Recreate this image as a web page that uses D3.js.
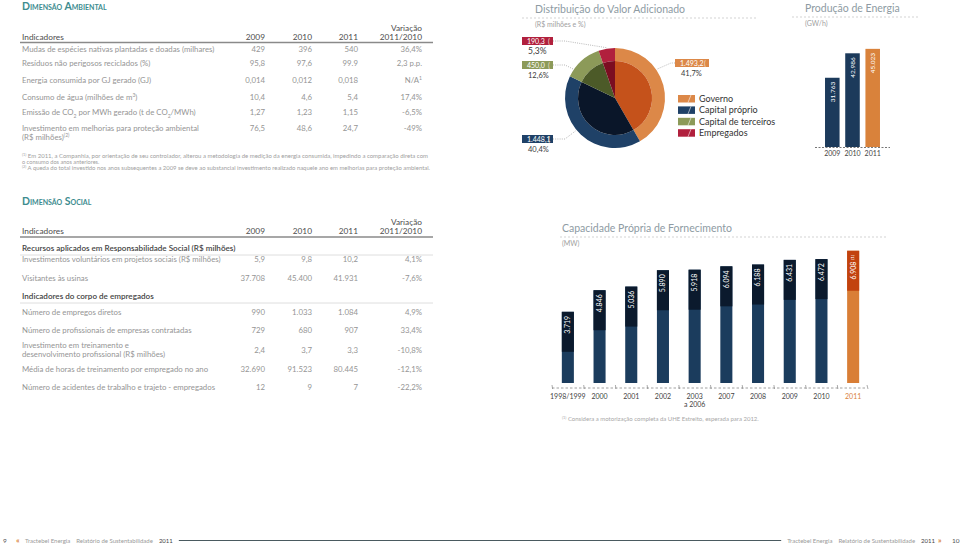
<!DOCTYPE html>
<html><head><meta charset="utf-8">
<script src="https://cdn.jsdelivr.net/npm/d3@7"></script>
<style>body{margin:0;background:#fff} svg{display:block;font-family:Lato,"Open Sans",sans-serif}</style>
</head><body><svg id="c" width="960" height="545"></svg>
<script>
// ---------------- DATA ----------------
const ambTitle = "Dimensão Ambiental";
const tableHeader = ["Indicadores", "2009", "2010", "2011", "Variação", "2011/2010"];
const ambLabels = [
  ["Mudas de espécies nativas plantadas e doadas (milhares)"],
  ["Resíduos não perigosos reciclados (%)"],
  ["Energia consumida por GJ gerado (GJ)"],
  ["Consumo de água (milhões de m^{3})"],
  ["Emissão de CO_{2} por MWh gerado (t de CO_{2}/MWh)"],
  ["Investimento em melhorias para proteção ambiental", "(R$ milhões)^{(2)}"]
];
const amb2009 = ["429", "95,8", "0,014", "10,4", "1,27", "76,5"];
const amb2010 = ["396", "97,6", "0,012", "4,6", "1,23", "48,6"];
const amb2011 = ["540", "99.9", "0,018", "5,4", "1,15", "24,7"];
const ambVar = ["36,4%", "2,3 p.p.", "N/A^{1}", "17,4%", "-6,5%", "-49%"];
const ambNotes = [
  "^{(1)} Em 2011, a Companhia, por orientação de seu controlador, alterou a metodologia de medição da energia consumida, impedindo a comparação direta com",
  "   o consumo dos anos anteriores.",
  "^{(2)} A queda do total investido nos anos subsequentes a 2009 se deve ao substancial investimento realizado naquele ano em melhorias para proteção ambiental."
];

const socTitle = "Dimensão Social";
const socLabels = [
  ["Recursos aplicados em Responsabilidade Social (R$ milhões)"],
  ["Investimentos voluntários em projetos sociais (R$ milhões)"],
  ["Visitantes às usinas"],
  ["Indicadores do corpo de empregados"],
  ["Número de empregos diretos"],
  ["Número de profissionais de empresas contratadas"],
  ["Investimento em treinamento e", "desenvolvimento profissional (R$ milhões)"],
  ["Média de horas de treinamento por empregado no ano"],
  ["Número de acidentes de trabalho e trajeto - empregados"]
];
const socIsSection = [true, false, false, true, false, false, false, false, false];
const soc2009 = ["", "5,9", "37.708", "", "990", "729", "2,4", "32.690", "12"];
const soc2010 = ["", "9,8", "45.400", "", "1.033", "680", "3,7", "91.523", "9"];
const soc2011 = ["", "10,2", "41.931", "", "1.084", "907", "3,3", "80.445", "7"];
const socVar = ["", "4,1%", "-7,6%", "", "4,9%", "33,4%", "-10,8%", "-12,1%", "-22,2%"];

const pieTitle = "Distribuição do Valor Adicionado";
const pieSub = "(R$ milhões e %)";
const pieCats = ["Governo", "Capital próprio", "Capital de terceiros", "Empregados"];
const pieValues = [1493.2, 1448.1, 450.0, 190.3];
const pieValueLabels = ["1.493,2", "1.448,1", "450,0", "190,3"];
const piePctLabels = ["41,7%", "40,4%", "12,6%", "5,3%"];

const energyTitle = "Produção de Energia";
const energySub = "(GW/h)";
const energyYears = ["2009", "2010", "2011"];
const energyValues = [31763, 42986, 45023];
const energyLabels = ["31.763", "42.986", "45.023"];

const capTitle = "Capacidade Própria de Fornecimento";
const capSub = "(MW)";
const capCats = ["1998/1999", "2000", "2001", "2002", "2003|a 2006", "2007", "2008", "2009", "2010", "2011"];
const capValues = [3719, 4846, 5036, 5890, 5918, 6094, 6188, 6431, 6472, 6908];
const capLabels = ["3.719", "4.846", "5.036", "5.890", "5.918", "6.094", "6.188", "6.431", "6.472", "6.908 ^{(1)}"];
const capNote = "^{(1)} Considera a motorização completa da UHE Estreito, esperada para 2012.";

const footLeftNum = "9", footRightNum = "10";
const footTexts = ["Tractebel Energia", "Relatório de Sustentabilidade", "2011"];

// ---------------- HELPERS ----------------
const svg = d3.select("#c");
const TEAL = "#3d8c8f", GRAY = "#959595", DARK = "#4d4d4d", ORANGE = "#d9823b";

function rich(t, str) {
  str.split(/(\^\{[^}]*\}|_\{[^}]*\})/).filter(s => s.length).forEach(s => {
    if (s.startsWith("^{")) t.append("tspan").attr("baseline-shift", "super").attr("font-size", "65%").text(s.slice(2, -1));
    else if (s.startsWith("_{")) t.append("tspan").attr("baseline-shift", "sub").attr("font-size", "65%").text(s.slice(2, -1));
    else t.append("tspan").text(s);
  });
  return t;
}
function txt(g, x, y, str, o = {}) {
  const t = g.append("text").attr("x", x).attr("y", y)
    .attr("font-size", o.size || 7.8).attr("fill", o.fill || GRAY)
    .attr("text-anchor", o.anchor || "start")
    .attr("font-weight", o.weight || 400);
  if (o.sc) t.style("font-variant", "small-caps");
  if (o.len) t.attr("textLength", o.len).attr("lengthAdjust", "spacingAndGlyphs");
  return rich(t, str);
}

const colX = [265, 312, 358, 422];
const tableLeft = 22, tableRight = 433;

function tableHead(g, yTitle, yVar, yHead, yLine, title) {
  txt(g, tableLeft, yTitle, title, { size: 10.5, fill: TEAL, weight: 700, sc: true });
  txt(g, tableLeft, yHead, tableHeader[0], { size: 8.3, fill: DARK });
  [1, 2, 3].forEach(i => txt(g, colX[i - 1], yHead, tableHeader[i], { size: 8.3, fill: DARK, anchor: "end" }));
  txt(g, colX[3], yVar, tableHeader[4], { size: 8.3, fill: DARK, anchor: "end" });
  txt(g, colX[3], yHead, tableHeader[5], { size: 8.3, fill: DARK, anchor: "end" });
  g.append("line").attr("x1", 20).attr("x2", tableRight).attr("y1", yLine).attr("y2", yLine)
    .attr("stroke", "#8a8a8a").attr("stroke-width", 1.6);
}

// ---------------- AMBIENTAL TABLE ----------------
const gA = svg.append("g");
tableHead(gA, 10, 30.5, 40, 42.5, ambTitle);
const ambY = [52, 66, 83, 100, 115, 131];
ambLabels.forEach((lab, i) => {
  lab.forEach((l, j) => txt(gA, tableLeft, ambY[i] + j * 9, l));
  [amb2009, amb2010, amb2011, ambVar].forEach((arr, c) => txt(gA, colX[c], ambY[i], arr[i], { anchor: "end" }));
});
const noteY = [158, 163.5, 170];
txt(gA, tableLeft, noteY[0], ambNotes[0], { size: 5.6, len: 406, fill: "#a0a0a0" });
txt(gA, tableLeft, noteY[1], ambNotes[1], { size: 5.6, fill: "#a0a0a0" });
txt(gA, tableLeft, noteY[2], ambNotes[2], { size: 5.6, len: 408, fill: "#a0a0a0" });

// ---------------- SOCIAL TABLE ----------------
const gS = svg.append("g");
tableHead(gS, 205, 224.5, 234, 237, socTitle);
const socY = [251, 262, 281, 299, 315, 333, 348, 372, 390];
socLabels.forEach((lab, i) => {
  const sec = socIsSection[i];
  lab.forEach((l, j) => txt(gS, tableLeft, socY[i] + j * 9, l, sec ? { size: 8.1, fill: "#444", weight: 600 } : {}));
  if (sec) {
    gS.append("line").attr("x1", 20).attr("x2", tableRight).attr("y1", socY[i] + 4).attr("y2", socY[i] + 4)
      .attr("stroke", "#d6d6d6").attr("stroke-width", 0.8);
  } else {
    const vy = socY[i] + (lab.length > 1 ? 4.5 : 0);
    [soc2009, soc2010, soc2011, socVar].forEach((arr, c) => txt(gS, colX[c], vy, arr[i], { anchor: "end" }));
  }
});

// ---------------- CHART TITLES ----------------
function chartTitle(x, y, x1, x2, title, sub) {
  txt(svg, x, y, title, { size: 10.5, fill: "#8e9ba3" });
  svg.append("line").attr("x1", x1).attr("x2", x2).attr("y1", y + 5).attr("y2", y + 5)
    .attr("stroke", "#c8c8c8").attr("stroke-dasharray", "2,2").attr("stroke-width", 0.8);
  txt(svg, x, y + 14, sub, { size: 7, fill: "#a0a0a0" });
}

// ---------------- PIE ----------------
chartTitle(535, 13, 522, 758, pieTitle, pieSub);
const pieOuter = ["#dc8848", "#1f4167", "#8c9a59", "#b1203d"];
const pieInner = ["#c5521b", "#0a1629", "#4c5a28", "#7b0d21"];
const cx = 615, cy = 98, R = 50, r0 = 37;
const pieGen = d3.pie().sort(null).value(d => d);
const arcs = pieGen(pieValues);
const gP = svg.append("g").attr("transform", `translate(${cx},${cy})`);
gP.selectAll("path.o").data(arcs).join("path").attr("class", "o")
  .attr("d", d3.arc().innerRadius(r0).outerRadius(R)).attr("fill", (d, i) => pieOuter[i]);
gP.selectAll("path.i").data(arcs).join("path").attr("class", "i")
  .attr("d", d3.arc().innerRadius(0).outerRadius(r0)).attr("fill", (d, i) => pieInner[i]);
// labels
const boxPos = [{ x: 675, y: 63, side: "r" }, { x: 522, y: 139, side: "l" }, { x: 522, y: 65, side: "l" }, { x: 522, y: 41, side: "l" }];
const boxW = [34, 31, 31, 31];
const leadAng = [0.37, 0.55, 0.2, 0.5];
arcs.forEach((a, i) => {
  const b = boxPos[i];
  const ang = a.startAngle + (a.endAngle - a.startAngle) * leadAng[i];
  const px = cx + (R + 1) * Math.sin(ang), py = cy - (R + 1) * Math.cos(ang);
  const ex = b.side === "l" ? b.x + boxW[i] : b.x;
  const mx = b.side === "l" ? ex + 12 : ex - 4;
  svg.append("path").attr("d", `M${ex},${b.y}L${mx},${b.y}L${px},${py}`)
    .attr("fill", "none").attr("stroke", "#9a9a9a").attr("stroke-width", 0.7).attr("stroke-dasharray", "1,1.2");
  svg.append("rect").attr("x", b.x).attr("y", b.y - 4).attr("width", boxW[i]).attr("height", 8).attr("fill", pieOuter[i]);
  txt(svg, b.x + 5, b.y + 2.6, pieValueLabels[i], { size: 7, fill: "#fff" });
  txt(svg, b.x + boxW[i] - 5, b.y + 2.6, "(", { size: 7, fill: "#f3e0d0" });
  txt(svg, b.x + 6, b.y + 13, piePctLabels[i], { size: i === 3 ? 8.5 : 7.5, fill: "#3a3a3a" });
});
// legend
const gL = svg.append("g");
pieCats.forEach((c, i) => {
  const y = 95 + i * 11.4;
  gL.append("rect").attr("x", 678).attr("y", y).attr("width", 17).attr("height", 7.5).attr("fill", pieOuter[i]);
  gL.append("line").attr("x1", 688).attr("y1", y + 7.5).attr("x2", 691).attr("y2", y)
    .attr("stroke", "#fff").attr("stroke-opacity", 0.7).attr("stroke-width", 0.8);
  txt(gL, 699, y + 7, c, { size: 9, fill: "#333" });
});

// ---------------- ENERGY BARS ----------------
chartTitle(805, 12, 792, 920, energyTitle, energySub);
const ex = d3.scaleBand().domain(energyYears).range([823, 882]).paddingInner(0.28).paddingOuter(0.1);
const ey = d3.scaleLinear().domain([0, 50000]).range([147, 38]);
const gE = svg.append("g");
gE.selectAll("rect").data(energyValues).join("rect")
  .attr("x", (d, i) => ex(energyYears[i])).attr("width", ex.bandwidth())
  .attr("y", d => ey(d)).attr("height", d => ey(0) - ey(d))
  .attr("fill", (d, i) => i === 2 ? ORANGE : "#1c3a5b");
energyValues.forEach((d, i) => {
  const t = txt(gE, 0, 0, energyLabels[i], { size: 6.5, fill: "#fff", anchor: "end" });
  t.attr("transform", `translate(${ex(energyYears[i]) + ex.bandwidth() / 2 + 2.3},${ey(d) + 4}) rotate(-90)`);
});
gE.append("line").attr("x1", 815).attr("x2", 890).attr("y1", 147.5).attr("y2", 147.5)
  .attr("stroke", "#666").attr("stroke-dasharray", "2,1.5").attr("stroke-width", 0.9);
gE.append("g").attr("transform", "translate(0,148)")
  .call(d3.axisBottom(ex).tickSize(0).tickPadding(3))
  .call(g => g.select(".domain").remove())
  .call(g => g.selectAll("text").attr("font-size", 7).attr("fill", "#444").attr("font-family", "Lato"));

// ---------------- CAPACITY BARS ----------------
chartTitle(562, 232, 560, 887, capTitle, capSub);
const cxs = d3.scaleBand().domain(capCats).range([552, 869]).paddingInner(0.62).paddingOuter(0.31);
const cys = d3.scaleLinear().domain([0, 7000]).range([383, 249]);
const gC = svg.append("g");
capValues.forEach((v, i) => {
  const x = cxs(capCats[i]), w = cxs.bandwidth(), top = cys(v), h = cys(0) - top;
  const last = i === capValues.length - 1;
  gC.append("rect").attr("x", x).attr("y", top).attr("width", w).attr("height", h).attr("fill", last ? "#d97e36" : "#1b3c5d");
  gC.append("rect").attr("x", x).attr("y", top).attr("width", w).attr("height", Math.min(40, h)).attr("fill", last ? "#c2420e" : "#0b1a2d");
  const t = txt(gC, 0, 0, capLabels[i], { size: 7, fill: "#fff", anchor: "end" });
  t.attr("transform", `translate(${x + w / 2 + 2.4},${top + 4}) rotate(-90)`);
});
const axY = 388;
gC.append("line").attr("x1", 552).attr("x2", 867).attr("y1", axY).attr("y2", axY)
  .attr("stroke", "#888").attr("stroke-dasharray", "2.5,2").attr("stroke-width", 0.8);
capCats.forEach((c) => {
  const bx = cxs(c) - cxs.step() * cxs.paddingInner() / 2;
  gC.append("line").attr("x1", bx).attr("x2", bx + 0.6).attr("y1", axY - 3).attr("y2", axY + 1).attr("stroke", "#888").attr("stroke-width", 0.7);
});
gC.append("line").attr("x1", 867).attr("x2", 868).attr("y1", axY - 3).attr("y2", axY + 1).attr("stroke", "#888").attr("stroke-width", 0.7);
gC.append("g").attr("transform", `translate(0,${axY})`)
  .call(d3.axisBottom(cxs).tickSize(0).tickPadding(6).tickFormat(d => d.split("|")[0]))
  .call(g => g.select(".domain").remove())
  .call(g => g.selectAll("text").attr("font-size", 7).attr("fill", (d, i) => i === capCats.length - 1 ? ORANGE : "#444").attr("font-family", "Lato")
    .each(function (d) {
      const parts = d.split("|");
      if (parts.length > 1) d3.select(this).append("tspan").attr("x", 0).attr("dy", "1.1em").text(parts[1]);
    }));
txt(svg, 562, 421, capNote, { size: 6, fill: "#a8a8a8" });

// ---------------- FOOTER ----------------
const gF = svg.append("g");
const fy = 542.5;
txt(gF, 3, fy, footLeftNum, { size: 6.5, fill: "#555" });
txt(gF, 16, fy, "«", { size: 8, fill: ORANGE, weight: 700 });
let fx = 25;
footTexts.forEach((s, i) => {
  const t = txt(gF, fx, fy, s, { size: 6, fill: i === 2 ? "#444" : "#999" });
  fx += t.node().getComputedTextLength() + 6;
});
const leftEnd = fx;
// right side, laid out from the right
let rx = 935;
const rw = [];
footTexts.slice().reverse().forEach((s, i) => {
  const t = txt(gF, rx, fy, s, { size: 6, fill: i === 0 ? "#444" : "#999", anchor: "end" });
  rx -= t.node().getComputedTextLength() + 6;
});
gF.append("line").attr("x1", leftEnd).attr("x2", rx).attr("y1", 540.5).attr("y2", 540.5).attr("stroke", "#4a5a60").attr("stroke-width", 1);
txt(gF, 938, fy, "»", { size: 8, fill: ORANGE, weight: 700 });
txt(gF, 952, fy, footRightNum, { size: 6.5, fill: "#555" });
</script></body></html>
